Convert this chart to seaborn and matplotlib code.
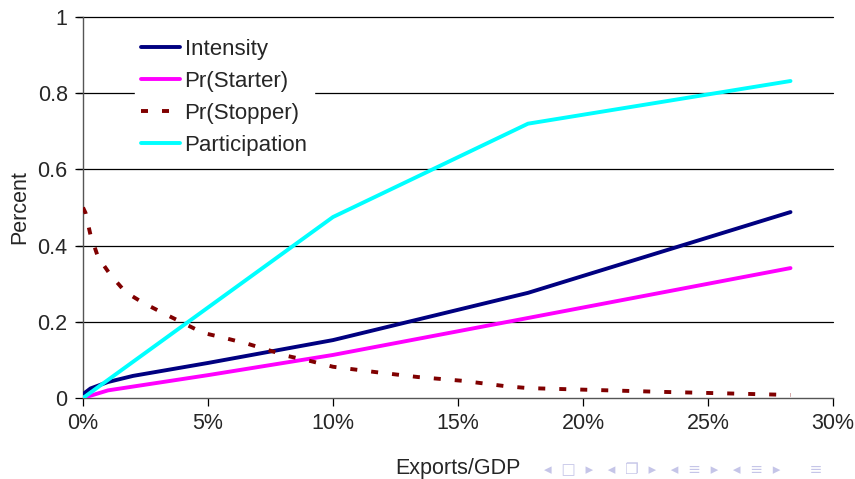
import pandas as pd
import seaborn as sns
import matplotlib.pyplot as plt

# data (x = exports/GDP as a fraction)
intensity_x = [0.0, 0.003, 0.01, 0.02, 0.05, 0.10, 0.178, 0.283]
intensity_y = [0.010, 0.025, 0.042, 0.058, 0.092, 0.152, 0.276, 0.488]

starter_x = [0.0, 0.01, 0.05, 0.10, 0.178, 0.283]
starter_y = [0.0, 0.020, 0.060, 0.113, 0.210, 0.341]

stopper_x = [0.0, 0.001, 0.003, 0.006, 0.011, 0.017, 0.024, 0.032, 0.040, 0.048,
             0.057, 0.066, 0.074, 0.082, 0.091, 0.100, 0.117, 0.134, 0.152,
             0.169, 0.178, 0.205, 0.232, 0.258, 0.283]
stopper_y = [0.500, 0.486, 0.428, 0.370, 0.323, 0.278, 0.250, 0.223, 0.197, 0.171,
             0.157, 0.142, 0.126, 0.110, 0.097, 0.082, 0.068, 0.055, 0.045,
             0.031, 0.026, 0.021, 0.016, 0.012, 0.008]

particip_x = [0.0, 0.10, 0.178, 0.283]
particip_y = [0.0, 0.475, 0.720, 0.832]

x_ticks = [0, 0.05, 0.10, 0.15, 0.20, 0.25, 0.30]
y_ticks = [0, 0.2, 0.4, 0.6, 0.8, 1.0]

sns.set_style("white")
plt.rcParams['font.family'] = ['Liberation Sans', 'DejaVu Sans']

fig = plt.figure(figsize=(8.55, 4.79), dpi=100)
ax = fig.add_axes([83 / 855, 81 / 479, 750 / 855, 381 / 479])

# gridlines first so the lines sit on top
for yv in y_ticks[1:]:
    ax.axhline(yv, color='black', lw=0.9, zorder=1, xmin=-0.008, clip_on=False)

lw = 2.8
sns.lineplot(x=intensity_x, y=intensity_y, ax=ax, color='#000080', lw=lw,
             label='Intensity', zorder=3)
sns.lineplot(x=starter_x, y=starter_y, ax=ax, color='#FF00FF', lw=lw,
             label='Pr(Starter)', zorder=3)
sns.lineplot(x=stopper_x, y=stopper_y, ax=ax, color='#800000', lw=lw,
             label='Pr(Stopper)', zorder=3)
ax.lines[-1].set_dashes([1.8, 3.6])
sns.lineplot(x=particip_x, y=particip_y, ax=ax, color='#00FFFF', lw=lw,
             label='Participation', zorder=4)

ax.set_xlim(0, 0.30)
ax.set_ylim(0, 1.0)
ax.set_xticks(x_ticks)
ax.set_yticks(y_ticks)
ax.set_xticklabels([f'{round(v * 100)}%' for v in x_ticks], fontsize=15.5)
ax.set_yticklabels([f'{v:g}' for v in y_ticks], fontsize=15.5)
ax.tick_params(axis='both', direction='out', length=6, width=0.9, color='black',
               bottom=True, left=True, pad=5)

for side in ['top', 'right']:
    ax.spines[side].set_visible(False)
for side in ['left', 'bottom']:
    ax.spines[side].set_color('#555555')
    ax.spines[side].set_linewidth(1.0)

ax.set_xlabel('Exports/GDP', fontsize=15.5, labelpad=17)
ax.set_ylabel('Percent', fontsize=15.5, labelpad=5)

leg = ax.legend(loc='upper left', bbox_to_anchor=(0.054, 0.99), frameon=True,
                fontsize=16, handlelength=1.75, handletextpad=0.2,
                labelspacing=0.5, borderpad=0.3)
leg.get_frame().set_edgecolor('white')
leg.get_frame().set_facecolor('white')
leg.get_frame().set_alpha(1)
leg.set_zorder(5)
for h in leg.get_lines():
    h.set_linewidth(lw)

# beamer navigation symbols
fig.text(0.962, 0.004, '◂  □  ▸   ◂  ❐  ▸   ◂  ≡  ▸   ◂  ≡  ▸      ≡',
         ha='right', va='bottom', fontsize=11, color='#c5c5e8',
         family=['DejaVu Sans'])

fig.savefig('out.png', dpi=100)
